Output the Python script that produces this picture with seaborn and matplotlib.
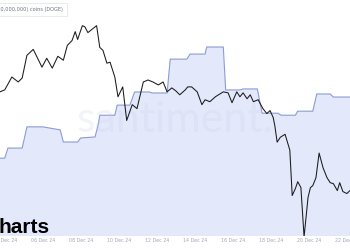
import matplotlib
matplotlib.use("Agg")
import matplotlib.pyplot as plt
import matplotlib.dates as mdates
import pandas as pd
import seaborn as sns

# ---------------- data ----------------
price_times = [
    "2024-12-03 18:00", "2024-12-04 00:00", "2024-12-04 09:00", "2024-12-04 17:00",
    "2024-12-04 22:00", "2024-12-05 04:00", "2024-12-05 12:00", "2024-12-05 23:00",
    "2024-12-06 05:00", "2024-12-06 12:00", "2024-12-06 19:00", "2024-12-07 02:00",
    "2024-12-07 07:00", "2024-12-07 13:00", "2024-12-07 17:00", "2024-12-07 20:00",
    "2024-12-08 02:00", "2024-12-08 05:00", "2024-12-08 09:00", "2024-12-08 20:00",
    "2024-12-09 00:00", "2024-12-09 04:00", "2024-12-09 09:00", "2024-12-09 13:00",
    "2024-12-09 19:00", "2024-12-09 23:00", "2024-12-10 05:00", "2024-12-10 10:00",
    "2024-12-10 17:00", "2024-12-10 23:00", "2024-12-11 07:00", "2024-12-11 13:00",
    "2024-12-11 19:00", "2024-12-12 02:00", "2024-12-12 08:00", "2024-12-12 13:00",
    "2024-12-12 19:00", "2024-12-13 00:00", "2024-12-13 05:00", "2024-12-13 12:00",
    "2024-12-13 15:00", "2024-12-13 20:00", "2024-12-14 03:00", "2024-12-14 09:00",
    "2024-12-14 13:00", "2024-12-14 19:00", "2024-12-15 02:00", "2024-12-15 08:00",
    "2024-12-15 12:00", "2024-12-15 18:00", "2024-12-15 23:00", "2024-12-16 05:00",
    "2024-12-16 09:00", "2024-12-16 13:00", "2024-12-16 18:00", "2024-12-16 22:00",
    "2024-12-17 02:00", "2024-12-17 08:00", "2024-12-17 14:00", "2024-12-17 19:00",
    "2024-12-17 23:00", "2024-12-18 03:00", "2024-12-18 05:00", "2024-12-18 08:00",
    "2024-12-18 12:00", "2024-12-18 18:00", "2024-12-19 00:00", "2024-12-19 03:00",
    "2024-12-19 07:00", "2024-12-19 10:00", "2024-12-19 14:00", "2024-12-19 18:00",
    "2024-12-19 23:00", "2024-12-20 02:00", "2024-12-20 05:00", "2024-12-20 09:00",
    "2024-12-20 13:00", "2024-12-20 18:00", "2024-12-20 23:00", "2024-12-21 03:00",
    "2024-12-21 07:00", "2024-12-21 12:00", "2024-12-21 15:00", "2024-12-21 19:00",
    "2024-12-22 00:00", "2024-12-22 04:00",
]
price_values = [
    0.417, 0.419, 0.432, 0.427, 0.431, 0.454, 0.460, 0.442,
    0.451, 0.441, 0.453, 0.449, 0.464, 0.469, 0.478, 0.470,
    0.484, 0.483, 0.477, 0.484, 0.462, 0.459, 0.446, 0.447,
    0.432, 0.412, 0.422, 0.388, 0.404, 0.400, 0.427, 0.429,
    0.427, 0.424, 0.427, 0.417, 0.421, 0.418, 0.414, 0.419,
    0.422, 0.422, 0.417, 0.404, 0.409, 0.407, 0.412, 0.415,
    0.417, 0.416, 0.406, 0.417, 0.412, 0.416, 0.410, 0.414,
    0.407, 0.409, 0.400, 0.395, 0.398, 0.391, 0.383, 0.366,
    0.371, 0.374, 0.358, 0.312, 0.319, 0.326, 0.320, 0.270,
    0.310, 0.320, 0.322, 0.330, 0.355, 0.340, 0.330, 0.325,
    0.324, 0.317, 0.325, 0.316, 0.314, 0.317,
]

holding_times = [
    "2024-12-03 18:00", "2024-12-04 00:00", "2024-12-04 04:00", "2024-12-04 22:00",
    "2024-12-05 04:00", "2024-12-06 00:00", "2024-12-06 22:00", "2024-12-07 02:00",
    "2024-12-07 20:00", "2024-12-08 00:00", "2024-12-08 18:00", "2024-12-08 22:00",
    "2024-12-09 00:00", "2024-12-09 19:00", "2024-12-09 22:00", "2024-12-10 14:00",
    "2024-12-10 20:00", "2024-12-11 15:00", "2024-12-11 18:00", "2024-12-12 13:00",
    "2024-12-12 17:00", "2024-12-13 14:00", "2024-12-13 18:00", "2024-12-14 13:00",
    "2024-12-14 15:00", "2024-12-15 12:00", "2024-12-15 15:00", "2024-12-16 09:00",
    "2024-12-16 13:00", "2024-12-17 07:00", "2024-12-17 13:00", "2024-12-18 09:00",
    "2024-12-18 13:00", "2024-12-19 07:00", "2024-12-19 10:00", "2024-12-20 05:00",
    "2024-12-20 10:00", "2024-12-21 03:00", "2024-12-21 07:00", "2024-12-22 04:00",
]
holding_values = [
    23.10, 23.10, 23.30, 23.30, 23.72, 23.72, 23.66, 23.42,
    23.42, 23.50, 23.52, 23.76, 23.95, 23.95, 24.15, 24.15,
    24.41, 24.41, 24.39, 24.39, 25.06, 25.06, 25.16, 25.16,
    25.30, 25.30, 24.45, 24.45, 24.47, 24.47, 23.99, 23.99,
    23.95, 23.95, 24.03, 24.03, 24.37, 24.37, 24.31, 24.31,
]

tick_dates = ["2024-12-04", "2024-12-06", "2024-12-08", "2024-12-10", "2024-12-12",
              "2024-12-14", "2024-12-16", "2024-12-18", "2024-12-20", "2024-12-22"]

legend_text = "Supply held by addresses (100,000,000-1,000,000,000) coins (DOGE)"
watermark = "santiment."
brand_text = "harts"

# ---------------- frames ----------------
price_df = pd.DataFrame({"time": pd.to_datetime(price_times), "price": price_values})
hold_df = pd.DataFrame({"time": pd.to_datetime(holding_times), "held": holding_values})

sns.set_style("white")
fig = plt.figure(figsize=(3.5, 2.5), dpi=100)
ax = fig.add_axes([0, 14 / 250, 1, 236 / 250])

fill_color = "#e4e8fb"
step_color = "#8c9cd2"

# holdings area
ax.fill_between(hold_df["time"], hold_df["held"], 21.56, color=fill_color, lw=0, zorder=1)
sns.lineplot(data=hold_df, x="time", y="held", ax=ax, color=step_color, lw=0.8, zorder=2)
ax.set_ylim(21.56, 26.23)

# watermark
ax.text(0.5, 0.49, watermark, transform=ax.transAxes, ha="center", va="center",
        fontsize=31, color="#c9cfe6", alpha=0.22, family="Lato", zorder=3)

# price line on twin axis
ax2 = ax.twinx()
sns.lineplot(data=price_df, x="time", y="price", ax=ax2, color="#1a1a1a", lw=0.75)
ax2.set_ylim(0.271, 0.510)

xmin = pd.Timestamp("2024-12-03 18:00")
xmax = pd.Timestamp("2024-12-22 04:00")
ax.set_xlim(xmin, xmax)

ax.set_xticks(pd.to_datetime(tick_dates))
ax.xaxis.set_major_formatter(mdates.DateFormatter("%d %b %y"))
ax.tick_params(axis="x", length=0, pad=1.5, labelsize=3.4, labelcolor="#a3a8b8")
for a in (ax, ax2):
    a.set_yticks([])
    a.set_ylabel("")
    a.set_xlabel("")
    for s in a.spines.values():
        s.set_visible(False)
ax2.tick_params(axis="x", length=0, labelbottom=False)

# legend-like label at top-left (cropped)
fig.text(63 / 350, 1 - 9 / 250, legend_text, ha="right", va="center", fontsize=3.6,
         color="#6a7080",
         bbox=dict(boxstyle="square,pad=0.8", fc="white", ec="#e6e8f0", lw=0.6))

# brand text bottom-left (cropped)
fig.text(-1 / 350, 1 - 233 / 250, brand_text, ha="left", va="baseline", fontsize=15,
         fontweight="bold", color="black", family="Liberation Sans")

fig.savefig("out.png", dpi=100)
